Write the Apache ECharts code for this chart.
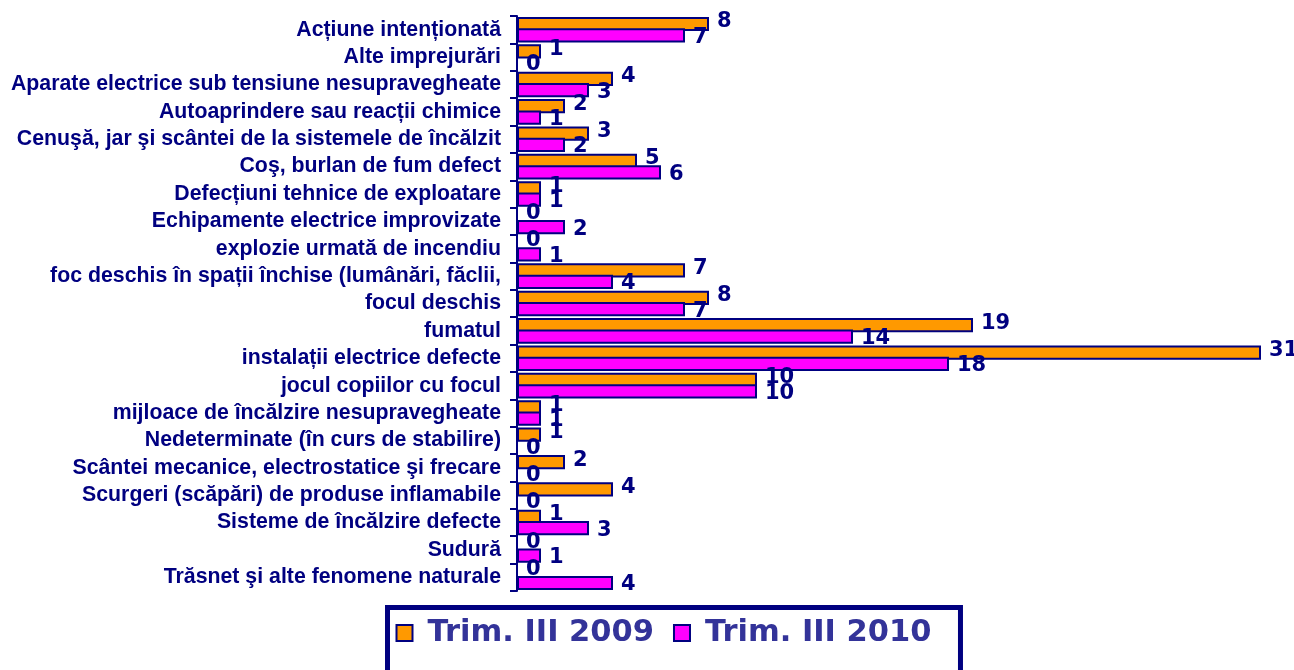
<!DOCTYPE html>
<html>
<head>
<meta charset="utf-8">
<script src="https://cdn.jsdelivr.net/npm/echarts@6/dist/echarts.min.js"></script>
<style>
html,body{margin:0;padding:0;background:#fff;}
#c{width:1294px;height:670px;}
</style>
</head>
<body>
<div id="c"></div>
<script>
const categories = [
  "Acțiune intenționată",
  "Alte imprejurări",
  "Aparate electrice sub tensiune nesupravegheate",
  "Autoaprindere sau reacții chimice",
  "Cenuşă, jar şi scântei de la sistemele de încălzit",
  "Coş, burlan de fum defect",
  "Defecțiuni tehnice de exploatare",
  "Echipamente electrice improvizate",
  "explozie urmată de incendiu",
  "foc deschis în spații închise (lumânări, făclii,",
  "focul deschis",
  "fumatul",
  "instalații electrice defecte",
  "jocul copiilor cu focul",
  "mijloace de încălzire nesupravegheate",
  "Nedeterminate (în curs de stabilire)",
  "Scântei mecanice, electrostatice şi frecare",
  "Scurgeri (scăpări) de produse inflamabile",
  "Sisteme de încălzire defecte",
  "Sudură",
  "Trăsnet şi alte fenomene naturale"
];
const seriesNames = ["Trim. III 2009", "Trim. III 2010"];
const values2009 = [8, 1, 4, 2, 3, 5, 1, 0, 0, 7, 8, 19, 31, 10, 1, 1, 2, 4, 1, 0, 0];
const values2010 = [7, 0, 3, 1, 2, 6, 1, 2, 1, 4, 7, 14, 18, 10, 1, 0, 0, 0, 3, 1, 4];

const NAVY = '#000080';
const chart = echarts.init(document.getElementById('c'), null, {renderer: 'canvas'});

function barSeries(name, data, color, dy) {
  return {
    name: name,
    type: 'bar',
    data: data,
    barWidth: '52%',
    barGap: '-20%',
    itemStyle: { color: color, borderColor: NAVY, borderWidth: 2 },
    label: {
      show: true,
      position: 'right',
      distance: 8,
      offset: [0, dy],
      color: NAVY,
      fontFamily: 'DejaVu Sans',
      fontWeight: 'bold',
      fontSize: 21
    },
    animation: false
  };
}

chart.setOption({
  animation: false,
  grid: { left: 517, right: 9, top: 16, bottom: 79, containLabel: false },
  xAxis: { type: 'value', min: 0, max: 32, show: false },
  yAxis: {
    type: 'category',
    inverse: true,
    data: categories,
    axisLine: { show: true, lineStyle: { color: NAVY, width: 2 } },
    axisTick: { show: true, length: 7, lineStyle: { color: NAVY, width: 2 } },
    axisLabel: {
      color: NAVY,
      fontFamily: 'Liberation Sans',
      fontWeight: 'bold',
      fontSize: 21.3,
      margin: 16
    }
  },
  legend: {
    data: seriesNames,
    left: 387.5,
    top: 607.5,
    orient: 'horizontal',
    icon: 'rect',
    itemWidth: 16,
    itemHeight: 16,
    itemGap: 19,
    padding: [10, 29, 42, 8],
    borderColor: NAVY,
    borderWidth: 5,
    textStyle: {
      color: '#333399',
      fontFamily: 'DejaVu Sans',
      fontWeight: 'bold',
      fontSize: 30.5,
      padding: [0, 0, 0, 10]
    }
  },
  series: [
    barSeries(seriesNames[0], values2009, '#FF9900', -2),
    barSeries(seriesNames[1], values2010, '#FF00FF', 2)
  ]
});
</script>
</body>
</html>
